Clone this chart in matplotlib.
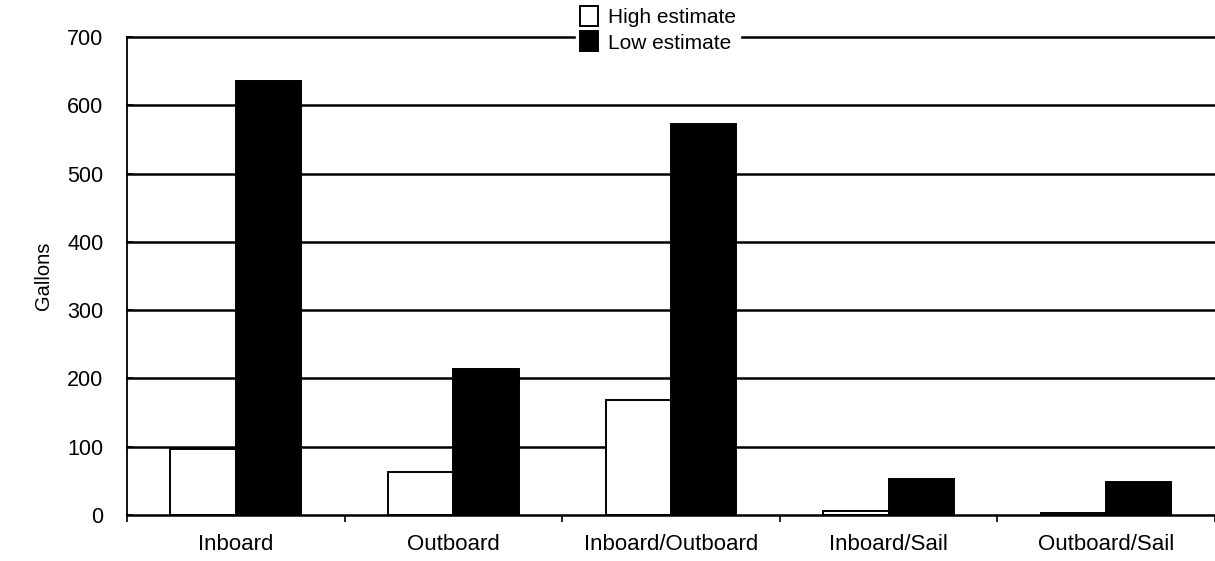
import matplotlib.pyplot as plt
import numpy as np

categories = ["Inboard", "Outboard", "Inboard/Outboard", "Inboard/Sail", "Outboard/Sail"]
high_estimate = [96, 63, 168, 6, 3]
low_estimate = [635, 214, 572, 52, 48]
y_ticks = [0, 100, 200, 300, 400, 500, 600, 700]

plt.rcParams['font.family'] = ['Liberation Sans', 'DejaVu Sans']

fig = plt.figure(figsize=(12.15, 5.61), dpi=100)
ax = fig.add_axes([0.1045, 0.082, 0.8955, 0.852])

x = np.arange(len(categories))
width = 0.3

for y in y_ticks[1:]:
    ax.axhline(y, color='black', linewidth=1.8, zorder=0, clip_on=False)

ax.bar(x - width / 2, high_estimate, width, color='white', edgecolor='black',
       linewidth=1.4, label='High estimate', zorder=2)
ax.bar(x + width / 2, low_estimate, width, color='black', edgecolor='black',
       linewidth=1.4, label='Low estimate', zorder=2)

ax.set_xlim(-0.5, len(categories) - 0.5)
ax.set_ylim(0, 700)
ax.set_yticks(y_ticks)
ax.set_yticklabels([str(v) for v in y_ticks], fontsize=15.5)
ax.set_xticks(x)
ax.set_xticklabels(categories, fontsize=16)
ax.tick_params(axis='x', length=0, pad=14)
ax.set_xticks(np.arange(len(categories) + 1) - 0.5, minor=True)
ax.tick_params(axis='x', which='minor', length=5, width=1.2, direction='out')
ax.tick_params(axis='y', length=4, width=1.2, direction='in', pad=17)

for side in ['top', 'right']:
    ax.spines[side].set_visible(False)
ax.spines['left'].set_linewidth(1.3)
ax.spines['bottom'].set_linewidth(1.8)

ax.set_ylabel("Gallons", fontsize=14.5, labelpad=10)

leg = ax.legend(loc='upper center', bbox_to_anchor=(0.488, 1.095), frameon=True,
                fontsize=15, handlelength=0.85, handleheight=1.1, handletextpad=0.5,
                labelspacing=0.2, borderpad=0.2, fancybox=False)
leg.get_frame().set_edgecolor('white')
leg.get_frame().set_facecolor('white')
leg.get_frame().set_alpha(1)
leg.set_zorder(5)

fig.savefig("out.png", dpi=100)
